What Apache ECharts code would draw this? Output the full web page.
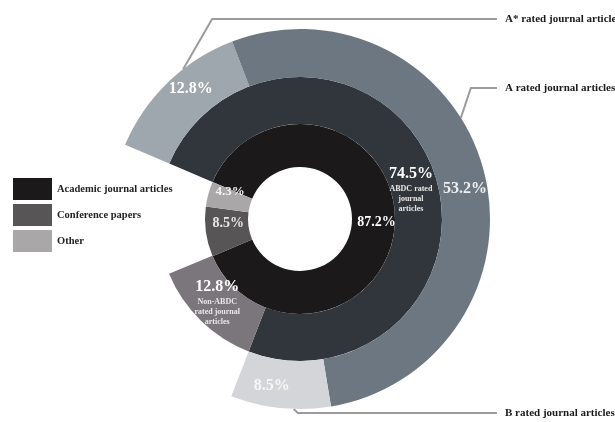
<!DOCTYPE html>
<html>
<head>
<meta charset="utf-8">
<script src="https://cdn.jsdelivr.net/npm/echarts@6/dist/echarts.min.js"></script>
<style>
  html, body { margin: 0; padding: 0; background: #fff; }
  #chart { width: 615px; height: 422px; }
</style>
</head>
<body>
<div id="chart"></div>
<script>
// 数据
const innerNames = ['Academic journal articles', 'Conference papers', 'Other'];
const innerValues = [87.2, 8.5, 4.3];
const middleNames = ['ABDC rated journal articles', 'Non-ABDC rated journal articles'];
const middleValues = [74.5, 12.8];
const middleSubLabels = ['ABDC rated\njournal\narticles', 'Non-ABDC\nrated journal\narticles'];
const outerNames = ['A* rated journal articles', 'A rated journal articles', 'B rated journal articles'];
const outerValues = [12.8, 53.2, 8.5];
const total = 100;

// 样式
const CENTER = [300, 219];
const START = 157;
const FONT = '"Liberation Serif", "Times New Roman", serif';
const innerColors = ['#1b1919', '#575555', '#a9a7a7'];
const middleColors = ['#30363c', '#7b767c'];
const outerColors = ['#9ea6ae', '#6c7781', '#d3d5d8'];
const innerLabelStyle = [
    { color: '#ffffff', size: 14, offset: [0, 3] },
    { color: '#e8e8e8', size: 14, offset: [4, -6] },
    { color: '#f2f2f2', size: 13, offset: [4, -7] }
];
const middleLabelStyle = [
    { color: '#ffffff', offset: [-1, 17] },
    { color: '#ffffff', offset: [2, -4] }
];
const outerLabelStyle = [
    { color: '#ffffff', offset: [8, -8] },
    { color: '#eef0f2', offset: [2, 14] },
    { color: '#f6f6f6', offset: [-11, -1] }
];
// 外部标注位置
const calloutStyle = {
    'A* rated journal articles': { x: 505, y: 19, dAngle: -6, elbowDx: 29 },
    'A rated journal articles': { x: 505, y: 88, dAngle: 17, elbowDx: 10 },
    'B rated journal articles': { x: 505, y: 413, dAngle: 4, elbowDx: 4 }
};

function sum(arr) {
    return arr.reduce((a, b) => a + b, 0);
}

const blank = {
    itemStyle: { color: 'rgba(0,0,0,0)' },
    label: { show: false },
    labelLine: { show: false },
    tooltip: { show: false }
};

const innerData = innerValues.map((v, i) => ({
    name: innerNames[i],
    value: v,
    itemStyle: { color: innerColors[i] },
    label: {
        color: innerLabelStyle[i].color,
        fontSize: innerLabelStyle[i].size,
        offset: innerLabelStyle[i].offset
    }
}));

const middleData = middleValues.map((v, i) => ({
    name: middleNames[i],
    value: v,
    itemStyle: { color: middleColors[i] },
    label: {
        formatter: '{p|' + v.toFixed(1) + '%}\n{s|' + middleSubLabels[i].split('\n').join('}\n{s|') + '}',
        color: middleLabelStyle[i].color,
        offset: middleLabelStyle[i].offset
    }
}));
middleData.push(Object.assign({ name: '', value: total - sum(middleValues) }, blank));

const outerData = outerValues.map((v, i) => ({
    name: outerNames[i],
    value: v,
    itemStyle: { color: outerColors[i] },
    label: {
        color: outerLabelStyle[i].color,
        offset: outerLabelStyle[i].offset
    }
}));
outerData.push(Object.assign({ name: '', value: total - sum(outerValues) }, blank));

const calloutData = outerValues.map((v, i) => ({
    name: outerNames[i],
    value: v
}));
calloutData.push(Object.assign({ name: '', value: total - sum(outerValues) }, blank));

const chart = echarts.init(document.getElementById('chart'));

const option = {
    backgroundColor: '#ffffff',
    animation: false,
    legend: {
        data: innerNames,
        orient: 'vertical',
        left: 8,
        top: 173,
        icon: 'rect',
        itemWidth: 39,
        itemHeight: 22,
        itemGap: 4,
        selectedMode: false,
        textStyle: {
            fontFamily: FONT,
            fontWeight: 'bold',
            fontSize: 10.5,
            color: '#222'
        }
    },
    series: [
        {
            name: 'inner',
            type: 'pie',
            center: CENTER,
            radius: [52, 95],
            startAngle: START,
            avoidLabelOverlap: false,
            emphasis: { disabled: true },
            label: {
                position: 'inside',
                formatter: (p) => p.value.toFixed(1) + '%',
                fontFamily: FONT,
                fontWeight: 'bold'
            },
            labelLine: { show: false },
            data: innerData
        },
        {
            name: 'middle',
            type: 'pie',
            center: CENTER,
            radius: [95, 142],
            startAngle: START,
            avoidLabelOverlap: false,
            emphasis: { disabled: true },
            label: {
                position: 'inside',
                fontFamily: FONT,
                fontWeight: 'bold',
                rich: {
                    p: { fontFamily: FONT, fontWeight: 'bold', fontSize: 16, color: '#fff', lineHeight: 20 },
                    s: { fontFamily: FONT, fontWeight: 'bold', fontSize: 8, color: '#e8e8e8', lineHeight: 10 }
                }
            },
            labelLine: { show: false },
            data: middleData
        },
        {
            name: 'outer',
            type: 'pie',
            center: CENTER,
            radius: [142, 190],
            startAngle: START,
            avoidLabelOverlap: false,
            emphasis: { disabled: true },
            label: {
                position: 'inside',
                formatter: (p) => p.value.toFixed(1) + '%',
                fontFamily: FONT,
                fontWeight: 'bold',
                fontSize: 16
            },
            labelLine: { show: false },
            data: outerData
        },
        {
            name: 'callout',
            type: 'pie',
            center: CENTER,
            radius: [142, 190],
            startAngle: START,
            silent: true,
            avoidLabelOverlap: false,
            emphasis: { disabled: true },
            itemStyle: { color: 'rgba(0,0,0,0)' },
            label: {
                position: 'outside',
                formatter: '{b}',
                fontFamily: FONT,
                fontWeight: 'bold',
                fontSize: 11,
                color: '#1a1a1a'
            },
            labelLine: {
                show: true,
                lineStyle: { color: '#9c9c9c', width: 2 }
            },
            labelLayout: function (params) {
                const cfg = calloutStyle[params.text];
                if (!cfg || !params.labelLinePoints) return {};
                const p0 = params.labelLinePoints[0];
                const dx = p0[0] - CENTER[0];
                const dy = p0[1] - CENTER[1];
                const r = Math.sqrt(dx * dx + dy * dy);
                const a = Math.atan2(dy, dx) - cfg.dAngle * Math.PI / 180;
                const start = [CENTER[0] + r * Math.cos(a), CENTER[1] + r * Math.sin(a)];
                const elbow = [start[0] + cfg.elbowDx, cfg.y];
                const end = [cfg.x - 8, cfg.y];
                return {
                    x: cfg.x,
                    y: cfg.y,
                    align: 'left',
                    verticalAlign: 'middle',
                    labelLinePoints: [start, elbow, end]
                };
            },
            data: calloutData
        }
    ]
};

chart.setOption(option);
</script>
</body>
</html>
